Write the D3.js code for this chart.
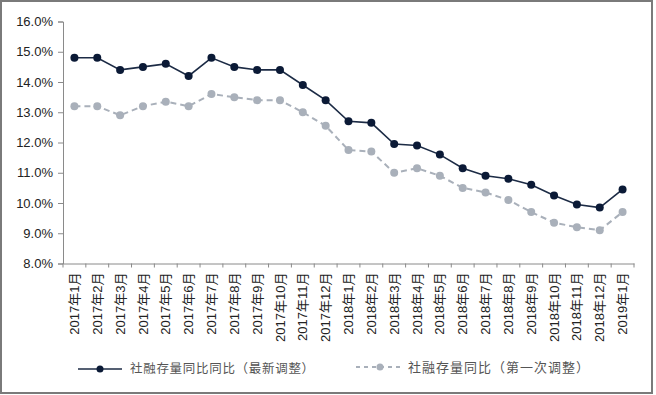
<!DOCTYPE html>
<html><head><meta charset="utf-8">
<script src="https://cdn.jsdelivr.net/npm/d3@7"></script>
<style>
html,body{margin:0;padding:0;background:#fff;}
svg{display:block;}
</style></head>
<body>
<svg id="chart" width="656" height="395"></svg>
<script>
const categories = ["2017年1月","2017年2月","2017年3月","2017年4月","2017年5月","2017年6月","2017年7月","2017年8月","2017年9月","2017年10月","2017年11月","2017年12月","2018年1月","2018年2月","2018年3月","2018年4月","2018年5月","2018年6月","2018年7月","2018年8月","2018年9月","2018年10月","2018年11月","2018年12月","2019年1月"];
const latest = [14.8,14.8,14.4,14.5,14.6,14.2,14.8,14.5,14.4,14.4,13.9,13.4,12.7,12.65,11.95,11.9,11.6,11.15,10.9,10.8,10.6,10.25,9.95,9.85,10.45];
const firstAdj = [13.2,13.2,12.9,13.2,13.35,13.2,13.6,13.5,13.4,13.4,13.0,12.55,11.75,11.7,11.0,11.15,10.9,10.5,10.35,10.1,9.7,9.35,9.2,9.1,9.7];
const yTicks = [8,9,10,11,12,13,14,15,16];
const seriesNames = ["社融存量同比同比（最新调整）","社融存量同比（第一次调整）"];

const svg = d3.select("#chart");
const font = "'Liberation Sans', Arial, 'Noto Sans CJK SC', sans-serif";
const cjkFont = "'Noto Sans CJK SC', sans-serif";

svg.append("rect").attr("x",1).attr("y",1).attr("width",651).attr("height",392)
  .attr("fill","#fff").attr("stroke","#7a7a7a").attr("stroke-width",2);

const x = d3.scaleBand().domain(categories).range([63,634]).padding(0);
const y = d3.scaleLinear().domain([8,16]).range([263.5,21.5]);
const cx = d => x(d) + x.bandwidth()/2;

// y axis
const yAxis = svg.append("g").attr("transform","translate(63,0)")
  .call(d3.axisLeft(y).tickValues(yTicks).tickSize(5).tickPadding(5).tickFormat(d=>d3.format(".1f")(d)+"%"));
yAxis.select(".domain").attr("stroke","#8a8a8a");
yAxis.selectAll(".tick line").attr("stroke","#8a8a8a");
yAxis.selectAll("text").attr("font-family",font).attr("font-size",13).attr("fill","#222");

// x axis
const xAxis = svg.append("g").attr("transform","translate(0,263.5)")
  .call(d3.axisBottom(x).tickSize(0).tickPadding(0));
xAxis.select(".domain").attr("stroke","#8a8a8a");
xAxis.selectAll(".tick line").remove();
const bounds = categories.map(c=>x(c)).concat([x(categories[categories.length-1])+x.bandwidth()]);
xAxis.selectAll(".btick").data(bounds).enter().append("line")
  .attr("x1",d=>d).attr("x2",d=>d).attr("y1",0).attr("y2",4).attr("stroke","#8a8a8a");
xAxis.selectAll(".tick text")
  .attr("font-family",font).attr("font-size",13).attr("fill","#222")
  .attr("text-anchor","end").attr("dy","0.35em")
  .attr("transform","translate(0,9) rotate(-90)");

// lines
const line1 = d3.line().x((d,i)=>cx(categories[i])).y(d=>y(d));
svg.append("path").datum(firstAdj).attr("d",line1).attr("fill","none")
  .attr("stroke","#a9b0ba").attr("stroke-width",2).attr("stroke-dasharray","6,4");
svg.selectAll(".p2").data(firstAdj).enter().append("circle")
  .attr("cx",(d,i)=>cx(categories[i])).attr("cy",d=>y(d)).attr("r",4).attr("fill","#a9b0ba");

svg.append("path").datum(latest).attr("d",line1).attr("fill","none")
  .attr("stroke","#1c2b45").attr("stroke-width",1.6);
svg.selectAll(".p1").data(latest).enter().append("circle")
  .attr("cx",(d,i)=>cx(categories[i])).attr("cy",d=>y(d)).attr("r",4).attr("fill","#0b1a36");

// legend
const lg = svg.append("g");
lg.append("line").attr("x1",78).attr("x2",122).attr("y1",369).attr("y2",369).attr("stroke","#1c2b45").attr("stroke-width",1.6);
lg.append("circle").attr("cx",100).attr("cy",369).attr("r",3.5).attr("fill","#0b1a36");
lg.append("text").attr("x",130).attr("y",369).attr("dy","0.35em").attr("font-family",cjkFont)
  .attr("font-size",12.5).attr("letter-spacing",0.7).attr("fill","#555").text(seriesNames[0]);
lg.append("line").attr("x1",356).attr("x2",402).attr("y1",367).attr("y2",367).attr("stroke","#a9b0ba").attr("stroke-width",2).attr("stroke-dasharray","4,4");
lg.append("circle").attr("cx",380).attr("cy",367).attr("r",3.5).attr("fill","#a9b0ba");
lg.append("text").attr("x",408).attr("y",367).attr("dy","0.35em").attr("font-family",cjkFont)
  .attr("font-size",13).attr("letter-spacing",1).attr("fill","#555").text(seriesNames[1]);
</script>
</body></html>
